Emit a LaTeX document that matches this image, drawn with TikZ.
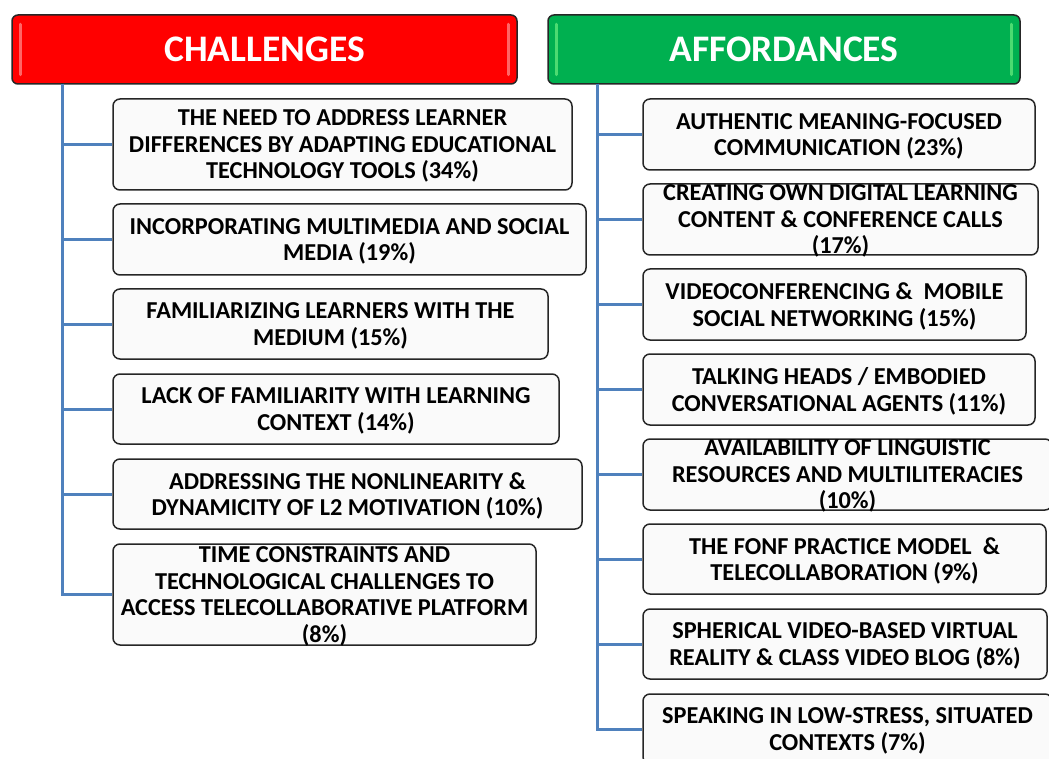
\documentclass[tikz,border=0pt]{standalone}
\usepackage{fontspec}
\setsansfont{Carlito}
\usepackage{tikz}
\usetikzlibrary{calc}
\definecolor{linkblue}{HTML}{4F81BD}
\definecolor{chalred}{HTML}{FF0000}
\definecolor{affgreen}{HTML}{00B050}
\tikzstyle{head}=[rectangle, rounded corners=6pt, draw=black!85, line width=1.5pt, text=white, font=\sffamily\bfseries\fontsize{37.5}{42}\selectfont, minimum height=69pt, inner sep=0pt]
\tikzstyle{item}=[rectangle, rounded corners=7pt, draw=black!85, line width=1.5pt, fill=gray!4, align=center, font=\sffamily\bfseries\fontsize{24.3}{26.5}\selectfont, inner xsep=2pt, inner ysep=0pt, text depth=0pt]
\tikzstyle{bevel}=[line width=3pt, line cap=round]
\tikzstyle{link}=[-, line width=3pt, draw=linkblue]
\begin{document}
\begin{tikzpicture}[x=1pt,y=-1pt]
			\useasboundingbox (0,0) rectangle (1049,759);
			
			%The two headings
			\draw (264.5,49.5) node[head, fill=chalred, minimum width=505pt] (chal) {CHALLENGES};
			\draw (784,49.5) node[head, fill=affgreen, minimum width=472pt] (aff) {AFFORDANCES};
			\draw[bevel, draw=red!60!white] ($(chal.north west)+(9,10)$) -- ($(chal.south west)+(9,-10)$);
			\draw[bevel, draw=red!60!white] ($(chal.north east)+(-9,10)$) -- ($(chal.south east)+(-9,-10)$);
			\draw[bevel, draw=green!35!affgreen!70!white] ($(aff.north west)+(9,10)$) -- ($(aff.south west)+(9,-10)$);
			\draw[bevel, draw=green!35!affgreen!70!white] ($(aff.north east)+(-9,10)$) -- ($(aff.south east)+(-9,-10)$);
			
			%The challenges
			\draw (342.5,144.5) node[item, minimum width=459pt, minimum height=91pt] (c1) {THE NEED TO ADDRESS LEARNER\\DIFFERENCES BY ADAPTING EDUCATIONAL\\TECHNOLOGY TOOLS (34\%)};
			\draw (349.5,239.5) node[item, minimum width=473pt, minimum height=71pt] (c2) {INCORPORATING MULTIMEDIA AND SOCIAL\\MEDIA (19\%)};
			\draw (330.5,324) node[item, minimum width=435pt, minimum height=70pt] (c3) {FAMILIARIZING LEARNERS WITH THE\\MEDIUM (15\%)};
			\draw (336,409) node[item, minimum width=446pt, minimum height=70pt] (c4) {LACK OF FAMILIARITY WITH LEARNING\\CONTEXT (14\%)};
			\draw (347.5,494) node[item, minimum width=469pt, minimum height=70pt] (c5) {ADDRESSING THE NONLINEARITY \&\\DYNAMICITY OF L2 MOTIVATION (10\%)};
			\draw (324.5,594.5) node[item, minimum width=423pt, minimum height=101pt] (c6) {TIME CONSTRAINTS AND\\TECHNOLOGICAL CHALLENGES TO\\ACCESS TELECOLLABORATIVE PLATFORM\\(8\%)};
			
			%The affordances
			\draw (839,134.5) node[item, minimum width=392pt, minimum height=71pt] (a1) {AUTHENTIC MEANING-FOCUSED\\COMMUNICATION (23\%)};
			\draw (840.5,219.5) node[item, minimum width=395pt, minimum height=71pt] (a2) {CREATING OWN DIGITAL LEARNING\\CONTENT \& CONFERENCE CALLS\\(17\%)};
			\draw (834.5,304.5) node[item, minimum width=383pt, minimum height=71pt] (a3) {VIDEOCONFERENCING \&~ MOBILE\\SOCIAL NETWORKING (15\%)};
			\draw (839,389.5) node[item, minimum width=392pt, minimum height=71pt] (a4) {TALKING HEADS / EMBODIED\\CONVERSATIONAL AGENTS (11\%)};
			\draw (847.5,474.5) node[item, minimum width=409pt, minimum height=71pt] (a5) {AVAILABILITY OF LINGUISTIC\\RESOURCES AND MULTILITERACIES\\(10\%)};
			\draw (844.5,559) node[item, minimum width=403pt, minimum height=70pt] (a6) {THE FONF PRACTICE MODEL~ \&\\TELECOLLABORATION (9\%)};
			\draw (845,644) node[item, minimum width=404pt, minimum height=70pt] (a7) {SPHERICAL VIDEO-BASED VIRTUAL\\REALITY \& CLASS VIDEO BLOG (8\%)};
			\draw (847.5,729) node[item, minimum width=409pt, minimum height=70pt] (a8) {SPEAKING IN LOW-STRESS, SITUATED\\CONTEXTS (7\%)};
			
			%The trees
			\coordinate (ct) at (62,84);
			\coordinate (at) at (597,84);
			\foreach \n in {c1,c2,c3,c4,c5,c6}
				\draw[link] (ct) |- (\n.west);
			\foreach \n in {a1,a2,a3,a4,a5,a6,a7,a8}
				\draw[link] (at) |- (\n.west);
		\end{tikzpicture}
\end{document}
